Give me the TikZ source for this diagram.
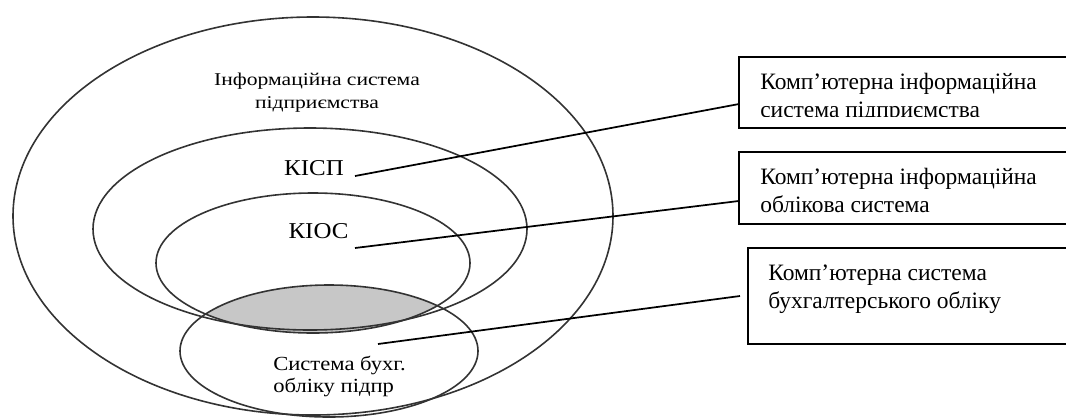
\documentclass[tikz,border=0pt]{standalone}
\usepackage{fontspec}
\usepackage{graphicx}
\setmainfont{Liberation Serif}
\usetikzlibrary{shapes.geometric,calc}
% horizontally widened text
\newcommand{\hstretch}[2]{\scalebox{#1}[1]{#2}}
\begin{document}
\begin{tikzpicture}[x=0.75pt,y=-0.75pt,
  ring/.style={ellipse, draw=black!80, line width=1.2pt, inner sep=0pt, outer sep=0pt},
  lbox/.style={rectangle, draw=black, line width=1.4pt, inner sep=0pt, outer sep=0pt, anchor=north west},
  link/.style={draw=black, line width=1.3pt},
  lens/.style={fill=black!22},
  boxtext/.style={anchor=base west, inner sep=0pt, font=\fontsize{17.6pt}{21pt}\selectfont},
  ]
\useasboundingbox (0,0) rectangle (1066,419);
\clip (0,0) rectangle (1066,419);

% shared part of the accounting system and the computer accounting system
\begin{scope}
  \clip (313,263) ellipse [x radius=157, y radius=70];
  \fill[lens] (329,351) ellipse [x radius=149, y radius=66];
\end{scope}

% nested systems
\node[ring, minimum width=450pt,   minimum height=298.5pt] (isp)  at (313,216) {};
\node[ring, minimum width=325.5pt, minimum height=151.5pt] (kisp) at (310,229) {};
\node[ring, minimum width=235.5pt, minimum height=105pt]   (kioc) at (313,263) {};
\node[ring, minimum width=223.5pt, minimum height=99pt]    (sbo)  at (329,351) {};

% labels inside the ellipses
\node[anchor=base, inner sep=0pt, font=\fontsize{13.5pt}{17.25pt}\selectfont] (tisp) at (317,85)
  {\begin{tabular}[t]{@{}c@{}}\hstretch{1.2}{Інформаційна система}\\ \hstretch{1.2}{підприємства}\end{tabular}};
\node[anchor=base, inner sep=0pt, font=\fontsize{17pt}{20pt}\selectfont] (tkisp) at (314,175) {\hstretch{1.1}{КІСП}};
\node[anchor=base, inner sep=0pt, font=\fontsize{17pt}{20pt}\selectfont] (tkioc) at (318.5,238) {\hstretch{1.1}{КІОС}};
\node[anchor=base west, inner sep=0pt, font=\fontsize{15pt}{16.5pt}\selectfont] (tsbo) at (273,370)
  {\begin{tabular}[t]{@{}l@{}}\hstretch{1.13}{Система бухг.}\\ \hstretch{1.13}{обліку підпр}\end{tabular}};

% description boxes
\node[lbox, minimum width=256pt, minimum height=53.25pt] (box1) at (739,57) {};
\node[lbox, minimum width=256pt, minimum height=54pt]    (box2) at (739,152) {};
\node[lbox, minimum width=250pt, minimum height=72pt]    (box3) at (748,248) {};

\begin{scope}
  \clip (739,57) rectangle (1066,116.5);
  \node[boxtext] (d1) at (760,89)
    {\begin{tabular}[t]{@{}l@{}}Комп’ютерна інформаційна\\ система підприємства\end{tabular}};
\end{scope}
\node[boxtext] (d2) at (760,184)
  {\begin{tabular}[t]{@{}l@{}}Комп’ютерна інформаційна\\ облікова система\end{tabular}};
\node[boxtext] (d3) at (768,280)
  {\begin{tabular}[t]{@{}l@{}}Комп’ютерна система\\ бухгалтерського обліку\end{tabular}};

% connectors
\coordinate (s1) at (355,176);
\coordinate (s2) at (355,248);
\coordinate (s3) at (378,344);
\coordinate (e3) at (740,296);
\draw[link] (s1) -- ($(box1.south west)!0.338!(box1.north west)$);
\draw[link] (s2) -- ($(box2.south west)!0.32!(box2.north west)$);
\draw[link] (s3) -- (e3);
\end{tikzpicture}
\end{document}
